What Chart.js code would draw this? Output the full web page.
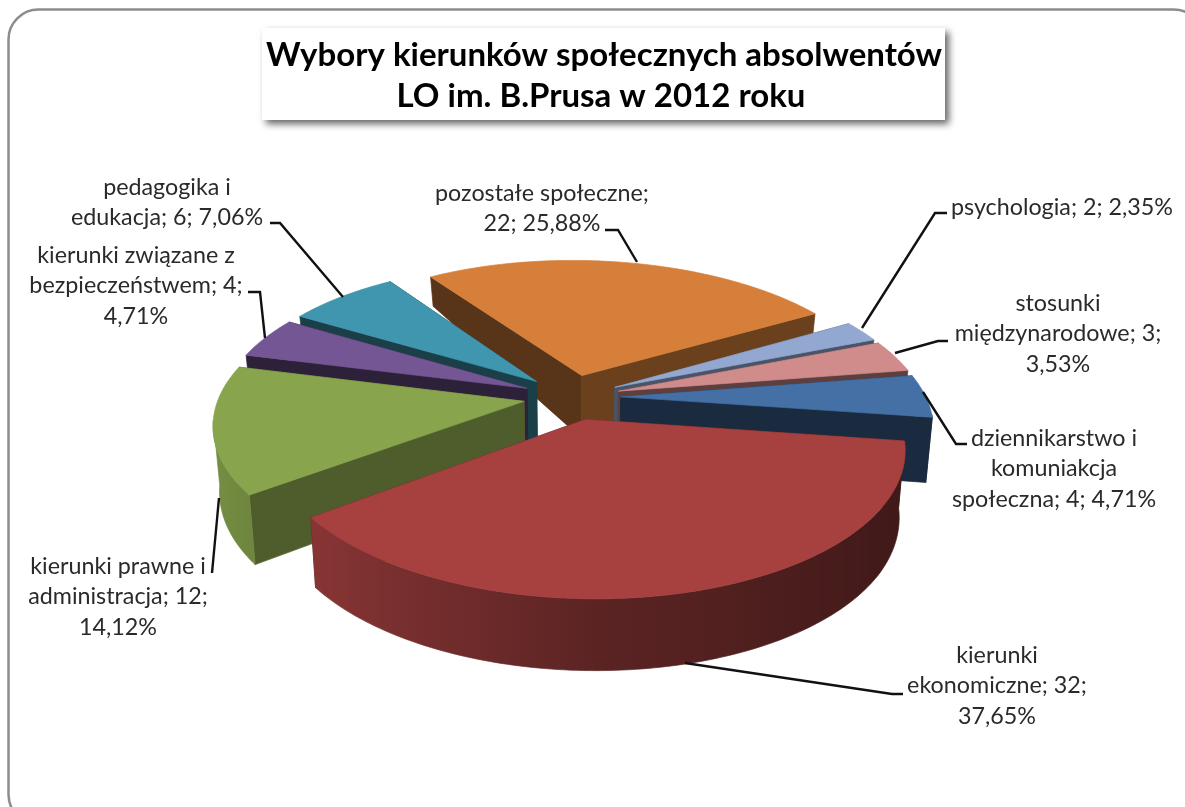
<!DOCTYPE html>
<html lang="pl">
<head>
<meta charset="utf-8">
<title>Wybory kierunków społecznych</title>
<style>html,body{margin:0;padding:0;background:#fff}canvas{display:block}</style>
<script src="https://cdn.jsdelivr.net/npm/chart.js@4"></script>
</head>
<body>
<canvas id="c" width="1185" height="807"></canvas>
<script>
const categories = ["psychologia","stosunki międzynarodowe","dziennikarstwo i komuniakcja społeczna","kierunki ekonomiczne","kierunki prawne i administracja","kierunki związane z bezpieczeństwem","pedagogika i edukacja","pozostałe społeczne"];
const counts = [2,3,4,32,12,4,6,22];
const titleLines = ["Wybory kierunków społecznych absolwentów","LO im. B.Prusa w 2012 roku"];
const labelLines = [
  ["psychologia; 2; 2,35%"],
  ["stosunki","międzynarodowe; 3;","3,53%"],
  ["dziennikarstwo i","komuniakcja","społeczna; 4; 4,71%"],
  ["kierunki","ekonomiczne; 32;","37,65%"],
  ["kierunki prawne i","administracja; 12;","14,12%"],
  ["kierunki związane z","bezpieczeństwem; 4;","4,71%"],
  ["pedagogika i","edukacja; 6; 7,06%"],
  ["pozostałe społeczne;","22; 25,88%"]
];

// styles and layout
const topColors = ["#92a8d0","#cf8c8b","#4470a6","#a64140","#88a44c","#745694","#3f96ae","#d67f3a"];
const cutShades = [[.5,.5],[.45,.45],[.38,.38],[.45,.45],[.57,.57],[.38,.38],[.42,.42],[.41,.5]];
const labelBoxes = [
  {x:1062,y:207},{x:1058,y:303},{x:1054,y:438},{x:997,y:655},
  {x:118,y:566},{x:136,y:255},{x:167,y:187},{x:542,y:193}
];
const leaders = [
  [[947,213],[935,213],[862,328]],
  [[948,341],[938,341],[895,353]],
  [[967,444],[956,444],[923,392]],
  [[903,694],[892,694],[685,663]],
  [[212,573],[219,498]],
  [[248,292],[260,292],[265,338]],
  [[270,223],[280,223],[343,297]],
  [[605,230],[618,230],[637,262]]
];
const VIEW = {W:305, H:141, p:.167, shear:8, baseScale:.982};

function rgb(hex,f){
  const n=parseInt(hex.slice(1),16);
  return `rgb(${Math.round((n>>16&255)*f)},${Math.round((n>>8&255)*f)},${Math.round((n&255)*f)})`;
}
function project(cx,cy,u,v){
  const s=1+VIEW.p*v;
  return [cx+VIEW.W*u/s-VIEW.shear*v, cy-VIEW.H*v/s];
}
function depth(v){
  if(v>.16) return 69-40*v;
  if(v>-.7) return 62.5+(.16-v)*9;
  return 70-(v+.7)*4;
}
function rimShade(nx){ return nx<0 ? .55-nx*.33 : .55-nx*.18; }

function fillPoly(ctx,pts,color){
  ctx.beginPath();
  pts.forEach((p,i)=>i?ctx.lineTo(p[0],p[1]):ctx.moveTo(p[0],p[1]));
  ctx.closePath();
  ctx.fillStyle=color; ctx.strokeStyle=color; ctx.lineWidth=.7; ctx.lineJoin='round';
  ctx.fill(); ctx.stroke();
}
function drawSlice(ctx,el,i){
  const cx=el.x, cy=el.y, o=el.options.offset/el.outerRadius;
  const a0=el.startAngle+Math.PI/2, a1=el.endAngle+Math.PI/2, mid=(a0+a1)/2;
  const ou=Math.sin(mid)*o, ov=Math.cos(mid)*o;
  const pt=(a,r)=>({u:ou+Math.sin(a)*r, v:ov+Math.cos(a)*r});
  const top=q=>project(cx,cy,q.u,q.v);
  const bot=q=>{const t=top(q);return [cx+(t[0]-cx)*VIEW.baseScale,t[1]+depth(q.v)];};
  const n=Math.max(3,Math.ceil((a1-a0)/(Math.PI/180)));
  const apex=pt(0,0), rim=[];
  for(let k=0;k<=n;k++){const a=a0+(a1-a0)*k/n; rim.push(Object.assign(pt(a,1),{a}));}
  // the two radial cut faces, farthest first
  [{v:rim[0].v,q:rim[0],c:cutShades[i][0]},{v:rim[n].v,q:rim[n],c:cutShades[i][1]}]
    .sort((a,b)=>b.v-a.v)
    .forEach(f=>fillPoly(ctx,[top(apex),top(f.q),bot(f.q),bot(apex)],rgb(topColors[i],f.c)));
  // the visible part of the outer wall, one gradient-shaded surface
  const front=rim.filter(q=>Math.cos(q.a)<-.12);
  if(front.length>1){
    const xs=front.map(q=>top(q)[0]), minX=Math.min(...xs), maxX=Math.max(...xs);
    const g=ctx.createLinearGradient(minX,0,maxX,0);
    front.forEach((q,k)=>g.addColorStop((xs[k]-minX)/((maxX-minX)||1),rgb(topColors[i],rimShade(Math.sin(q.a)))));
    fillPoly(ctx,[...front.map(top),...front.slice().reverse().map(bot)],g);
  }
  fillPoly(ctx,[top(apex),...rim.map(top)],topColors[i]);
}

const pie3d = {
  id:'pie3d',
  beforeDraw(chart){
    const ctx=chart.ctx;
    ctx.save();
    ctx.fillStyle='#fff'; ctx.fillRect(0,0,chart.width,chart.height);
    ctx.beginPath(); ctx.roundRect(8.5,9.5,1195,815,30);
    ctx.strokeStyle='#8c8c8c'; ctx.lineWidth=2.5; ctx.stroke();
    ctx.save();
    ctx.shadowColor='rgba(0,0,0,.6)'; ctx.shadowBlur=7; ctx.shadowOffsetX=4; ctx.shadowOffsetY=4;
    ctx.fillStyle='#fff'; ctx.fillRect(262,28,683,92);
    ctx.restore();
    ctx.fillStyle='#000'; ctx.textAlign='center'; ctx.textBaseline='middle';
    ctx.font='bold 33px Lato';
    ctx.fillText(titleLines[0],604,55);
    ctx.fillText(titleLines[1],601,96);
    ctx.restore();
  },
  beforeDatasetDraw(chart,args){
    const ctx=chart.ctx, arcs=chart.getDatasetMeta(args.index).data;
    const order=arcs.map((el,i)=>i).sort((a,b)=>{
      const m=e=>Math.cos((e.startAngle+e.endAngle)/2+Math.PI/2);
      return m(arcs[b])-m(arcs[a]);
    });
    ctx.save();
    order.forEach(i=>drawSlice(ctx,arcs[i],i));
    ctx.restore();
    return false;
  },
  afterDatasetsDraw(chart){
    const ctx=chart.ctx;
    ctx.save();
    ctx.strokeStyle='#111'; ctx.lineWidth=2.4; ctx.lineJoin='miter';
    leaders.forEach(l=>{
      ctx.beginPath();
      l.forEach((p,i)=>i?ctx.lineTo(p[0],p[1]):ctx.moveTo(p[0],p[1]));
      ctx.stroke();
    });
    ctx.fillStyle='#2a2a2a'; ctx.textAlign='center'; ctx.textBaseline='middle';
    ctx.font='23.3px Lato';
    labelLines.forEach((lines,i)=>lines.forEach((t,j)=>ctx.fillText(t,labelBoxes[i].x,labelBoxes[i].y+j*30.5)));
    ctx.restore();
  }
};

new Chart(document.getElementById('c'),{
  type:'pie',
  data:{labels:categories,datasets:[{data:counts,backgroundColor:topColors,borderWidth:0,offset:32}]},
  options:{
    responsive:false,animation:false,rotation:60,radius:200,
    layout:{padding:{right:41,bottom:13}},
    plugins:{legend:{display:false},tooltip:{enabled:false}}
  },
  plugins:[pie3d]
});
</script>
</body>
</html>
